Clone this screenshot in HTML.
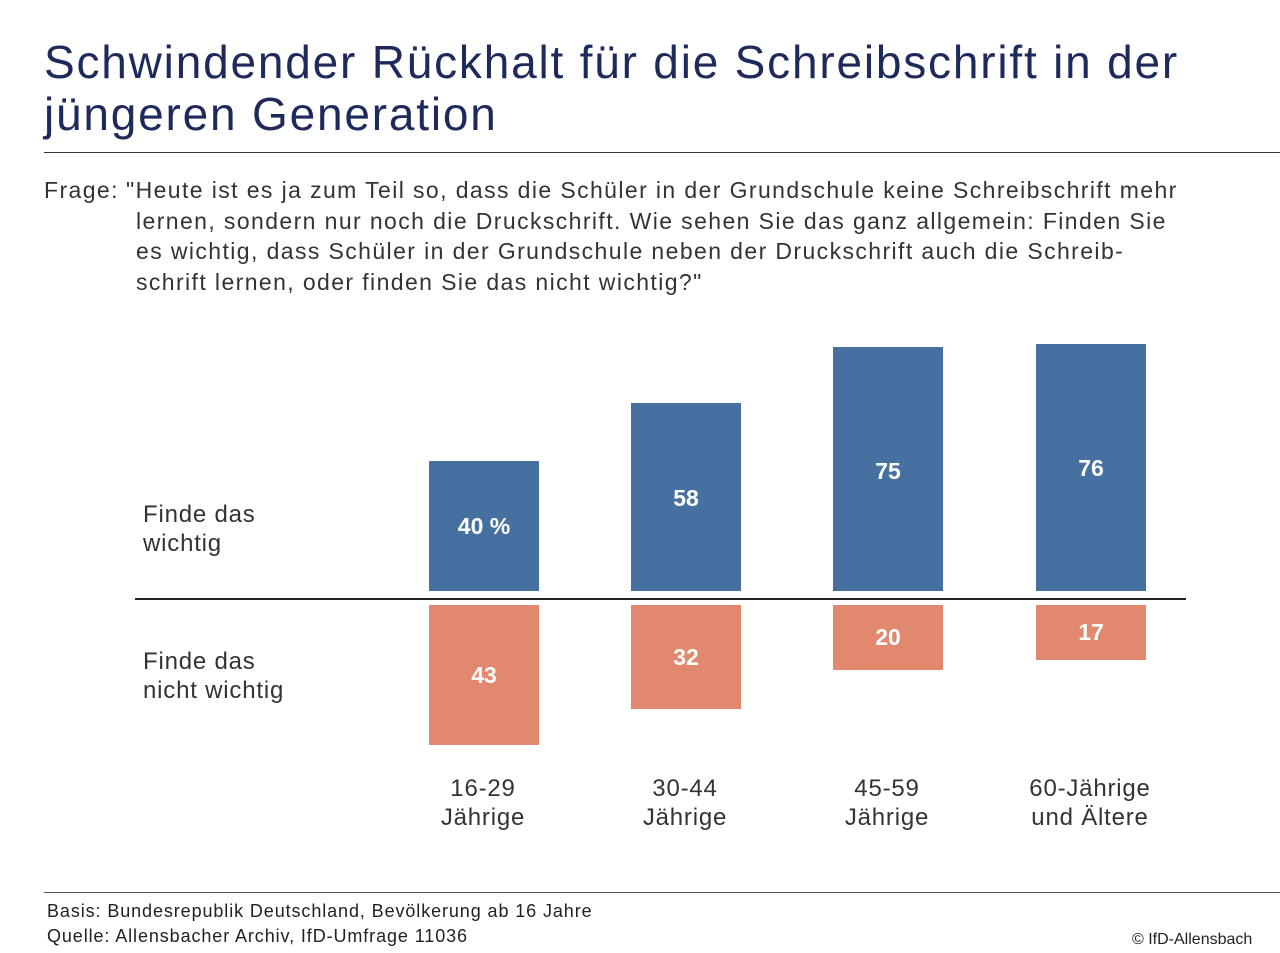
<!DOCTYPE html>
<html><head><meta charset="utf-8"><style>
body{margin:0;width:1280px;height:953px;background:#fff;font-family:"Liberation Sans",sans-serif;position:relative;overflow:hidden}
.a{position:absolute}
.t{color:#1f2a5c;font-size:46px;left:44px;line-height:52px;top:36px;letter-spacing:1.8px;white-space:nowrap}
.q{color:#333;font-size:23px;line-height:30.5px;letter-spacing:1.4px;white-space:nowrap}
.bar{position:absolute;color:#fff;font-weight:bold;font-size:23px;display:flex;align-items:center;justify-content:center}
.b{background:#46709f}.o{background:#e2886e}
.lab{color:#333;font-size:24px;line-height:29px;text-align:center;width:200px;letter-spacing:0.8px}
.f{letter-spacing:0.8px;font-size:24px;line-height:29px}
</style></head><body>
<div class="a t">Schwindender Rückhalt für die Schreibschrift in der<br>jüngeren Generation</div>
<div class="a" style="left:44px;top:152px;width:1236px;height:1px;background:#333"></div>
<div class="a q" style="left:44px;top:175px">Frage:</div>
<div class="a q" style="left:126px;top:175px">"Heute ist es ja zum Teil so, dass die Schüler in der Grundschule keine Schreibschrift mehr</div>
<div class="a q" style="left:136px;top:205.5px">lernen, sondern nur noch die Druckschrift. Wie sehen Sie das ganz allgemein: Finden Sie<br>es wichtig, dass Schüler in der Grundschule neben der Druckschrift auch die Schreib-<br>schrift lernen, oder finden Sie das nicht wichtig?"</div>
<div class="a q f" style="left:143px;top:500px">Finde das<br>wichtig</div>
<div class="a q f" style="left:143px;top:647px">Finde das<br>nicht wichtig</div>
<div class="a" style="left:135px;top:598px;width:1051px;height:2px;background:#222"></div>
<div class="bar b" style="left:429px;top:461px;width:110px;height:130px">40 %</div>
<div class="bar b" style="left:631px;top:403px;width:110px;height:188px;align-items:flex-start"><span style="margin-top:82px">58</span></div>
<div class="bar b" style="left:833px;top:347px;width:110px;height:244px;align-items:flex-start"><span style="margin-top:111px">75</span></div>
<div class="bar b" style="left:1036px;top:344px;width:110px;height:247px;align-items:flex-start"><span style="margin-top:111px">76</span></div>
<div class="bar o" style="left:429px;top:605px;width:110px;height:140px">43</div>
<div class="bar o" style="left:631px;top:605px;width:110px;height:104px">32</div>
<div class="bar o" style="left:833px;top:605px;width:110px;height:65px">20</div>
<div class="bar o" style="left:1036px;top:605px;width:110px;height:55px">17</div>
<div class="a lab" style="left:383px;top:774px">16-29<br>Jährige</div>
<div class="a lab" style="left:585px;top:774px">30-44<br>Jährige</div>
<div class="a lab" style="left:787px;top:774px">45-59<br>Jährige</div>
<div class="a lab" style="left:990px;top:774px">60-Jährige<br>und Ältere</div>
<div class="a" style="left:44px;top:892px;width:1236px;height:1px;background:#555"></div>
<div class="a" style="left:47px;top:899px;font-size:18px;line-height:25px;color:#222;letter-spacing:0.9px;white-space:nowrap">Basis: Bundesrepublik Deutschland, Bevölkerung ab 16 Jahre<br>Quelle: Allensbacher Archiv, IfD-Umfrage 11036</div>
<div class="a" style="left:1132px;top:931px;font-size:16px;color:#222">© IfD-Allensbach</div>
</body></html>
